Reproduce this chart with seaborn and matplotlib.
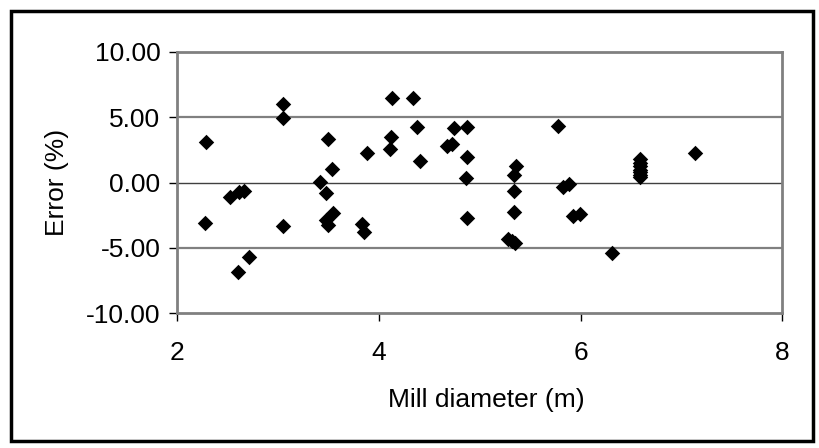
import numpy as np
import pandas as pd
import matplotlib.pyplot as plt
import matplotlib.patches as patches
import seaborn as sns

# mill diameter (m) and prediction error (%)
diameter = [2.29, 2.28, 3.05, 3.05, 3.05, 2.52, 2.61, 2.66, 2.71, 2.60,
            3.50, 3.54, 3.42, 3.48, 3.55, 3.48, 3.50, 3.88, 3.83, 3.85,
            4.13, 4.34, 4.12, 4.11, 4.38, 4.41, 4.68, 4.73, 4.75, 4.87,
            4.87, 4.86, 4.87, 5.36, 5.34, 5.34, 5.34, 5.28, 5.32, 5.35,
            5.78, 5.83, 5.89, 5.93, 5.99, 6.31, 6.59, 6.59, 6.59, 6.59,
            6.59, 6.59, 6.59, 7.13]
error = [3.08, -3.08, 5.99, 4.97, -3.33, -1.13, -0.70, -0.63, -5.73, -6.88,
         3.33, 1.01, 0.06, -0.78, -2.36, -2.87, -3.26, 2.29, -3.20, -3.77,
         6.45, 6.45, 3.51, 2.54, 4.23, 1.67, 2.80, 2.95, 4.15, 4.23,
         1.93, 0.37, -2.70, 1.26, 0.57, -0.63, -2.28, -4.35, -4.50, -4.66,
         4.35, -0.37, -0.11, -2.54, -2.42, -5.43, 1.80, 1.50, 1.25, 1.00,
         0.80, 0.60, 0.40, 2.29]

df = pd.DataFrame({"diameter": diameter, "error": error})

sns.set_style("white")
plt.rcParams["font.family"] = ["Liberation Sans", "DejaVu Sans"]
plt.rcParams["text.color"] = "black"
plt.rcParams["axes.labelcolor"] = "black"
plt.rcParams["xtick.color"] = "black"
plt.rcParams["ytick.color"] = "black"

fig = plt.figure(figsize=(8.2, 4.48), dpi=100)
ax = fig.add_axes([0.216, 0.301, 0.738, 0.583])

for yv in [-5, 5]:
    ax.axhline(yv, color="#808080", lw=1.6, zorder=0)
ax.axhline(0, color="#404040", lw=1.0, zorder=0)

sns.scatterplot(data=df, x="diameter", y="error", marker="D", s=62,
                color="black", edgecolor="black", linewidth=0, ax=ax, zorder=3)

ax.set_xlim(2, 8)
ax.set_ylim(-10, 10)
ax.set_xticks([2, 4, 6, 8])
ax.set_yticks([-10, -5, 0, 5, 10])
ax.set_yticklabels([f"{v:.2f}" for v in [-10, -5, 0, 5, 10]])
ax.tick_params(axis="both", direction="out", length=6, width=1,
               labelsize=19, left=True, bottom=True)
ax.tick_params(axis="x", pad=14)
ax.tick_params(axis="y", pad=6)
for side in ["top", "right", "bottom", "left"]:
    ax.spines[side].set_color("#808080")
    ax.spines[side].set_linewidth(2)

ax.set_xlabel("Mill diameter (m)", fontsize=19, labelpad=18)
ax.xaxis.set_label_coords(0.511, -0.285)
ax.set_ylabel("Error (%)", fontsize=19, labelpad=12)

# outer chart border
fig.patches.append(patches.Rectangle((11.5 / 820, 7.5 / 448), 801.5 / 820, 429 / 448,
                                     transform=fig.transFigure, fill=False,
                                     edgecolor="black", linewidth=2.5))

fig.savefig("out.png", dpi=100)
